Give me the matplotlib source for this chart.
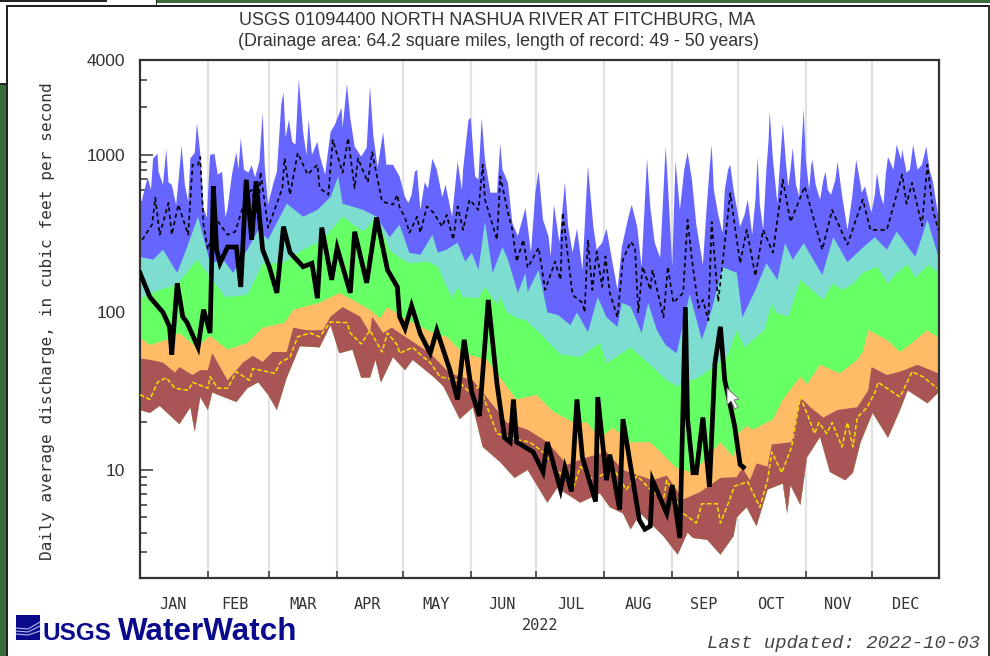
import matplotlib
matplotlib.use("Agg")
import matplotlib.pyplot as plt
from matplotlib.patches import Rectangle, Polygon
from matplotlib.ticker import FixedLocator, NullFormatter, FuncFormatter

month_labels = ["JAN","FEB","MAR","APR","MAY","JUN","JUL","AUG","SEP","OCT","NOV","DEC"]
month_edges = [31,59,90,120,151,181,212,243,273,304,334]
month_centers = [15,43.5,74.5,104,135,165,196.5,227.5,257.5,288,318.5,349.5]
y_major = [10,100,1000,4000]
y_minor = [3,4,5,6,7,8,9,20,30,40,50,60,70,80,90,200,300,400,500,600,700,800,900,2000,3000]

max_d = [0,3.5,5,6,8,8.5,10.5,12,13,14.5,16.5,17.5,19,20.5,22,23,25,26,27.5,29,30.5,32,34,35.5,37.5,39,40,42,44,45,46,47.5,49.5,51,52.5,54.5,56,57,58.5,61,62.5,64.5,65.5,66.5,68,69.5,71,72.5,74.5,76,77,78.5,81,82,84.5,87,89,92,92.5,94.5,96,98,101,103.5,105,106.5,108.5,111,112.5,115.5,118.5,
         121,122.5,124,125.5,126.5,128,130,131.5,133.5,135.5,138,139.5,142.5,145,147,147.5,150,151,153,154.5,156,157.5,160,163,164.5,165.5,168,170,172.5,176,178.5,180.5,182,184,186.5,187.5,189,191.5,194,195.5,197.5,199.5,202,204.5,207,208.5,211,213,215.5,218,220,222.5,224.5,227,229,231.5,233,235,237.5,240,241,243,244.5,246.5,
         248.5,250,252,254,257,258.5,260,261,262,264,266,267,268.5,269.5,271,274,276,277.5,279.5,281,282,283,284.5,286,287,287.5,289,291,292,293.5,295,296,297,298,299.5,301,302,303,304,305.5,306.5,307,308.5,310.5,312,313,314,315.5,317.5,318.5,320.5,323,325,327,329,329.5,331,333,334,335.5,336.5,338,339.5,340.5,341.5,344,345.5,347.5,348,350,351.5,353,355,357,359,360.5,362,364.5]
max_v = [460,720,600,950,1015,780,645,1090,670,645,483,670,1145,645,505,950,1030,1590,1030,460,400,1000,1015,750,780,400,460,750,1040,805,1280,805,770,860,720,905,1850,830,483,670,780,2080,2500,1285,1670,1210,1160,3030,1395,1000,1670,1000,1210,1000,750,1395,1555,1990,1490,2820,1715,1130,975,1110,2730,1340,830,1395,865,865,730,
         540,495,558,780,805,447,670,610,945,805,540,645,405,905,600,805,1670,1715,730,695,1715,930,575,575,1175,805,665,370,305,460,240,575,790,387,305,227,483,277,670,350,240,340,186,850,350,250,277,340,216,139,260,375,483,350,195,950,465,277,222,1130,665,195,915,447,
         805,1040,695,360,201,416,805,1160,600,416,320,600,805,865,600,350,416,520,311,520,970,483,334,805,1245,1880,930,490,805,1590,865,630,805,1110,645,540,1080,1950,930,600,865,930,645,520,695,780,600,558,695,905,558,334,520,930,645,575,630,483,430,558,770,558,483,750,970,805,1160,930,1080,770,805,1160,805,865,1130,805,680,405]

p90_d = [0,6,10.5,17,21.5,26.5,32,38,42.5,49,54,58.5,67,74.5,81,87,90.5,92.5,102,108,114,118.5,123,128,133.5,136,140,145,148.5,151.5,154.5,157.5,161,165.5,168,172.5,176,177,182,186,191,196.5,199.5,204.5,209,213,218,220,224,229,232,236,240,245,251,256.5,261,266,272.5,275,281,286,291,294.5,298,303,311.5,316.5,323,329,335.5,341,345.5,354,359.5,364.5]
p90_v = [225,216,250,178,260,405,205,216,178,250,334,290,490,405,447,540,730,490,447,405,300,360,239,232,311,239,250,277,210,239,186,376,178,260,216,133,178,135,186,100,96,83,100,75,125,93,81,115,109,74,115,77,62,55,131,67,104,194,178,93,139,205,161,275,216,275,173,300,208,250,300,250,325,225,387,227]

p75_d = [0,9,17,26,39,49,56,65,74.5,83.5,92.5,102,108,114,118.5,123,131.5,136,138.5,142.5,145,147.5,154.5,157.5,163,164.5,167.5,172,176,182,192,201,210,213,224,234,240.5,245.5,255.5,268,272.5,276,285,288.5,290,296,301.5,312,316,321,325.5,330,336.5,341.5,345.5,350.5,354,360,364.5]
p75_v = [122,139,150,216,125,129,205,205,250,289,405,325,405,250,222,205,210,195,161,123,145,125,123,145,112,125,100,92,89.5,75,54,52,64,47.5,60,45,37,34,39,52,77,60,77,115,100,94,161,120,152,139,152,178,195,152,178,201,166,201,178]

p25_d = [0,4.5,12,18,26,32,40,49,56,66,70,82,91,97,105,109.5,113,122,134,140,147.5,158.5,166,172,181,188.5,198,204,210,216,224,233,245,252.5,265,271,273,277,280,289,293.5,301.5,304.5,310.5,319.5,327.5,330,332.5,341,347,352.5,359.5,364.5]
p25_v = [69,62,67,74,60,71,58,64,80,86,104,115,133,120,104,92,108,89.5,74,70,55,50,36,28,30,23.5,20,20,16,18.5,15,15,10.3,9.6,15,12,17,19,18,21,28,39,35,46.5,41,50,56,77,67,56,64,77,69]

p10_d = [0,4.5,10.5,16,18,24,27.5,31,33,40,47,51.5,56,60.5,67,70,76,83.5,87,92.5,100.5,105,106,111,115,118.5,132.5,141.5,152,160,167.5,177,186,195,204,213,220.5,234,240.5,248,255.5,265,272.5,275,278.5,281.5,286.5,288.5,297.5,301.5,306,312,318.5,327.5,332.5,334,341,347,355,364.5]
p10_v = [51,50,48,41.5,45,40,43,43,55,37,48,53,48.5,56,56,80,77,77,94,108,94,74,94,74,80,74,55,41,37,27,20,18,15,10.8,12,13,10,8.6,9.2,6.5,7.2,8.9,9,10.3,8.6,11,10.5,14.5,15,29,25,21.5,24,25,32,45,40,42,46.5,41]

min_d = [0,4.5,9,18,23,25,27.5,31,33,44,49,54,58.5,62.5,67,73,82,87,91,97,101,105,107.5,110,115.5,121,124.5,134,138.5,146,152,156.5,164.5,171,177,186,190.5,201,210,214.5,220.5,224,228.5,239,245.5,250,252.5,259,265,271,272.5,277,280,281.5,286.5,293.5,295.5,297,301.5,304.5,310.5,315,322,325.5,329,334.5,341.5,347,350.5,359.5,364.5]
min_v = [24,23,25.5,19.5,25,17.5,29,24,31,27,33,36,30,24,38.5,61,60,83,55,58,38.5,38.5,50,36,52,43,50,39,34,21,25,14,11.2,8.9,10,6.2,7.7,6.2,7.1,5.8,5.3,4.2,5.3,3.8,2.9,4,3.7,3.6,2.9,3.8,5,5.8,4.8,4.4,7.5,8.2,5.3,8,6,12,16.2,9.7,8.6,9.6,15,23,16,24,32,26.5,31]

median_d = [1,5.5,7,9,13,14.5,17.5,22,24,26.5,27.5,29,31,35,40,43.5,48,51,54,55,58.5,65,66,68.5,72,76.5,81,82,86,88,92.5,95,98,99.5,104,106,110.5,115.5,117.5,
            118.5,121,123,126.5,128,131,134,138,140,143,145,147.5,150.5,154.5,156.5,157.5,163,164.5,168,170,172,175,177,182,185,189.5,192,193,195,197.5,202,203,204.5,206.5,208.5,211,212.5,214.5,218,220.5,224,226,227.5,229.5,233,234,239,241,243.5,
            248,250,252,255,257,259.5,261,264,269.5,274,277,281,284.5,289,293.5,297,303.5,311.5,316,323,330,333.5,341,348,350,352.5,357,359.5,362,364.5]
median_v = [289,360,535,311,495,311,483,311,865,865,970,360,250,387,311,325,520,600,387,780,345,615,950,558,1030,750,865,615,558,1245,770,1280,615,950,670,1040,505,483,558,
            465,400,320,405,320,470,430,350,416,289,470,334,520,447,865,520,289,730,430,334,210,289,192,258,139,210,161,430,250,129,115,100,289,139,243,145,227,133,93,216,280,260,100,195,139,186,93,195,115,
            133,387,216,107,120,89,375,117,570,205,334,170,334,240,695,375,630,250,447,269,520,334,334,750,490,665,355,865,447,334]

low_d = [0,4.5,8,12,16,22,24,31,32,35.5,40,44,50,51.5,61.5,64,68.5,72,77.5,82,87,94.5,96,101,105,110.5,113,117.5,118.5,124.5,128,132.5,137,145,150.5,155,163,172,178,184,190.5,198,201,207,216,222,227,233,239,240.5,248,254,256.5,263.5,265,268.5,271.5,277.5,283,286.5,288.5,293,297.5,301.5,305,308,310,313.5,316,320.5,323,325.5,327.5,332,335.5,337,347,352.5,357.5,364]
low_v = [30,28,36,38.5,33,32,36,33,39,33,33,42,37,44,41,48,52,70,74,70,87,86,74,63,77,56,74,62,55,60,54,48,39,37,31,34,17,15.6,15,13,10,7.8,10.5,8.6,10.3,7.5,9.2,7.5,6.5,8.6,5.3,4.6,6.1,6.1,4.6,6.1,7.9,8.4,5.8,8.6,13,9.6,14,29,22,17,20,17,20,14,20,14,21.5,25,31,36,29,42,39,33]

flow_d = [0,4.5,10.5,13.5,14.5,17,19.5,21.5,26.5,29,32,33.5,35,36.5,40,44,46,48.5,51,53,56,59,62.5,65.5,68.5,74.5,78.5,81,83,87.5,90,96,98,103.5,108,113,117.5,118.5,121,124,128,132.5,135.5,141.5,145,148,151.5,155,159,163,166.5,169,170.5,172,179.5,184,186,192,194,197,199.5,202,208,209,213,214.5,219,220.5,228,230.5,233,234,240.5,243,246.5,249,250,252.5,254,257,260,262.5,265,267,271.5,274,275.5]
flow_v = [178,125,100,81,54,153,94,86,60,104,74,630,250,205,260,260,145,695,289,680,250,195,133,350,240,195,205,123,345,161,257,133,325,154,400,186,145,94,79,110,73,55,77,43,28,67,31,22,120,35,16,15,28,15,13,9.7,15,7.5,10.3,7.3,28,12,6.3,29,8.6,12.5,5.6,21,4.8,4.2,4.4,8.6,5.3,8,3.7,108,21,9.6,9.6,21.5,7.8,47.5,81,37,19,10.8,10.4]

bands = [(max_d,max_v,"#6666FF"),(p90_d,p90_v,"#7DDDD0"),(p75_d,p75_v,"#66FF66"),(p25_d,p25_v,"#FFBB66"),(p10_d,p10_v,"#AA5555")]

W, H = 990, 656
fig = plt.figure(figsize=(W/100, H/100), dpi=100, facecolor="white")
ax = fig.add_axes([140/W, 1-578/H, 799/W, 518/H])
ax.set_yscale("log")
ax.set_xlim(0, 364.8)
ax.set_ylim(2.06, 4000)

for e in month_edges:
    ax.axvline(e, color="#E2E2E2", lw=1.6, zorder=1)
for d, v, c in bands:
    ax.fill(list(d)+list(min_d)[::-1], list(v)+list(min_v)[::-1], color=c, lw=0, zorder=2)
ax.plot(median_d, median_v, color="black", lw=1.2, dashes=(2.5,2), zorder=3)
ax.plot(low_d, low_v, color="#F5E000", lw=1.1, dashes=(3,1.5), zorder=3)
ax.plot(flow_d, flow_v, color="black", lw=3.4, solid_joinstyle="miter", zorder=4)

mono = "DejaVu Sans Mono"
ax.xaxis.set_major_locator(FixedLocator(month_edges))
ax.xaxis.set_major_formatter(NullFormatter())
ax.tick_params(axis="x", which="major", direction="in", length=5, width=1.1, color="#333333")
for c, lab in zip(month_centers, month_labels):
    ax.text(c, -0.0505, lab, transform=ax.get_xaxis_transform(), ha="center", va="center",
            family=mono, fontsize=11, color="#333333")
fig.text(540/W, 1-625/H, "2022", ha="center", va="center", family=mono, fontsize=11, color="#333333")
ax.yaxis.set_major_locator(FixedLocator(y_major))
ax.yaxis.set_minor_locator(FixedLocator(y_minor))
ax.yaxis.set_major_formatter(FuncFormatter(lambda v, p: f"{int(v)}"))
ax.yaxis.set_minor_formatter(NullFormatter())
ax.tick_params(axis="y", which="major", direction="in", length=9, width=1.1, color="#333333",
               pad=10.5, labelcolor="#333333")
ax.tick_params(axis="y", which="minor", direction="in", length=5, width=1.1, color="#333333")
for l in ax.get_yticklabels():
    l.set_family("Liberation Sans")
    l.set_fontsize(12.5)
for s in ax.spines.values():
    s.set_color("#333333")
    s.set_linewidth(1.6)

fig.text(497.5/W, 1-20/H, "USGS 01094400 NORTH NASHUA RIVER AT FITCHBURG, MA", ha="center", va="center",
         family="Liberation Sans", fontsize=12.95, color="#333333")
fig.text(498/W, 1-42/H, "(Drainage area: 64.2 square miles, length of record: 49 - 50 years)", ha="center", va="center",
         family="Liberation Sans", fontsize=12.8, color="#333333")
fig.text(48/W, 1-321/H, "Daily average discharge, in cubic feet per second", rotation=90, ha="center", va="center",
         family=mono, fontsize=11.6, color="#333333")
fig.text(980/W, 1-643/H, "Last updated: 2022-10-03", ha="right", va="center", family="Liberation Mono",
         style="italic", fontsize=13.6, color="#444444")

def figrect(x0, y0, x1, y1, c, z=5):
    fig.add_artist(Rectangle((x0/W, 1-y1/H), (x1-x0)/W, (y1-y0)/H, transform=fig.transFigure, color=c, lw=0, zorder=z))
navy = "#0A0A8C"
figrect(16, 615, 40, 640, navy)
for y0, y1 in [(628,622),(631,626),(634,631)]:
    fig.add_artist(plt.Line2D([16/W, 28/W, 40/W], [1-y0/H, 1-(y0+1)/H, 1-y1/H], transform=fig.transFigure, color="#B8B8E8", lw=0.8, zorder=6))
fig.text(42/W, 1-640/H, "USGS", ha="left", va="baseline", family="Liberation Sans",
         weight="bold", fontsize=17.5, color=navy)
fig.text(118/W, 1-640/H, "WaterWatch", ha="left", va="baseline", family="Liberation Sans",
         weight="bold", fontsize=22.6, color=navy)

figrect(0, 85, 6, 656, "#3A6B3A", 1)
figrect(6, 5, 7.5, 656, "#222222", 1)
figrect(6, 5, 990, 6.5, "#222222", 1)
figrect(157, 0, 990, 3, "#3A6B3A", 1)
figrect(0, 0, 107, 1.5, "#222222", 1)
figrect(155.5, 0, 157, 5, "#222222", 1)
figrect(0, 83, 6, 85, "#222222", 1)
figrect(988, 5, 990, 656, "#333333", 1)

cursor = [(727,388),(727,405),(731,401),(735,409),(738,407),(734,400),(739,399)]
fig.add_artist(Polygon([(x/W, 1-y/H) for x, y in cursor], closed=True, transform=fig.transFigure,
                       facecolor="white", edgecolor="#777777", lw=0.7, zorder=7))

fig.savefig("out.png", dpi=100)
